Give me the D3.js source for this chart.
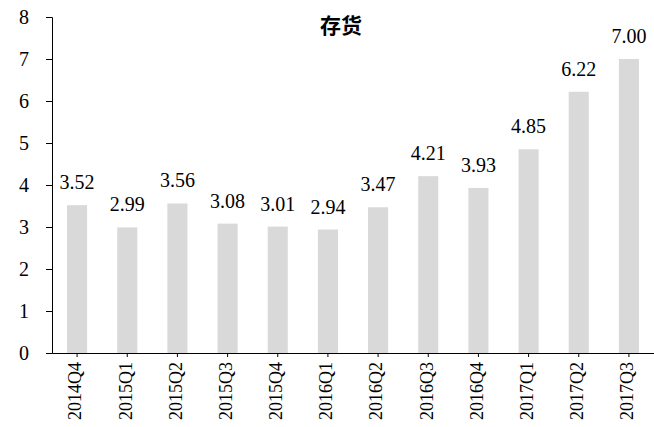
<!DOCTYPE html>
<html>
<head>
<meta charset="utf-8">
<script src="https://cdn.jsdelivr.net/npm/d3@7"></script>
<style>
  body { margin: 0; background: #fff; }
  svg text { font-family: "Liberation Serif", "Times New Roman", Times, serif; fill: #000; }
  svg text.title { font-family: "Noto Sans CJK SC", sans-serif; }
</style>
</head>
<body>
<div class="chart"></div>
<script>
var svgWidth = 654;
var svgHeight = 427;

var margin = { top: 17, right: 0, bottom: 74, left: 52 };
var width = svgWidth - margin.left - margin.right;
var height = svgHeight - margin.top - margin.bottom;

// data
var quarters = ["2014Q4", "2015Q1", "2015Q2", "2015Q3", "2015Q4", "2016Q1",
  "2016Q2", "2016Q3", "2016Q4", "2017Q1", "2017Q2", "2017Q3"];
var inventory = [3.52, 2.99, 3.56, 3.08, 3.01, 2.94, 3.47, 4.21, 3.93, 4.85, 6.22, 7.00];
var yTicks = [0, 1, 2, 3, 4, 5, 6, 7, 8];
var chartTitle = "存货";

var svg = d3.select(".chart")
  .append("svg")
  .attr("width", svgWidth)
  .attr("height", svgHeight);

var chartGroup = svg.append("g")
  .attr("transform", `translate(${margin.left}, ${margin.top})`);

var xScale = d3.scaleBand()
  .domain(quarters)
  .range([0, width])
  .paddingInner(0.6)
  .paddingOuter(0.3);

var yScale = d3.scaleLinear()
  .domain([0, 8])
  .range([height, 0]);

// bars
chartGroup.selectAll("rect.bar")
  .data(quarters)
  .enter()
  .append("rect")
  .attr("class", "bar")
  .attr("x", d => xScale(d))
  .attr("width", xScale.bandwidth())
  .attr("y", (d, i) => yScale(inventory[i]))
  .attr("height", (d, i) => height - yScale(inventory[i]))
  .attr("fill", "#d9d9d9");

// value labels
chartGroup.selectAll("text.val")
  .data(quarters)
  .enter()
  .append("text")
  .attr("class", "val")
  .attr("x", d => xScale(d) + xScale.bandwidth() / 2)
  .attr("y", (d, i) => yScale(inventory[i]) - 16)
  .attr("text-anchor", "middle")
  .attr("font-size", "20px")
  .text((d, i) => inventory[i].toFixed(2));

// y axis
var leftAxis = d3.axisLeft(yScale).tickValues(yTicks).tickSize(6).tickPadding(17);
var yAxis = chartGroup.append("g").call(leftAxis);
yAxis.attr("font-family", null);
yAxis.selectAll("text").attr("font-size", "20px");

// x axis
var bottomAxis = d3.axisBottom(xScale).tickSize(4).tickSizeOuter(0);
var xAxis = chartGroup.append("g")
  .attr("transform", `translate(0, ${height})`)
  .call(bottomAxis);
xAxis.attr("font-family", null);
xAxis.selectAll("text")
  .attr("font-size", "18px")
  .attr("transform", "rotate(-90)")
  .attr("text-anchor", "end")
  .attr("x", -9)
  .attr("y", -2)
  .attr("dy", "0.35em");

svg.selectAll(".domain, .tick line").attr("stroke", "#000");

// title
svg.append("text")
  .attr("class", "title")
  .attr("x", 341)
  .attr("y", 33)
  .attr("text-anchor", "middle")
  .attr("font-size", "21px")
  .attr("font-weight", "bold")
  .text(chartTitle);
</script>
</body>
</html>
